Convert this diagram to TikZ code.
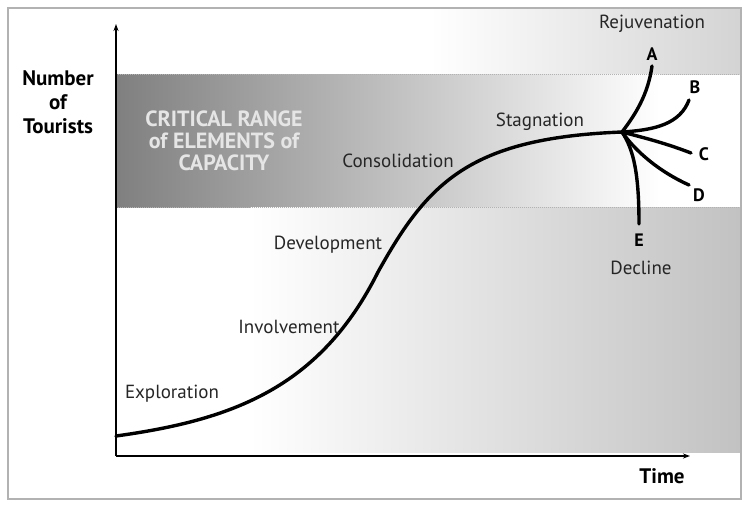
\documentclass[tikz,border=0pt]{standalone}
\usepackage{fontspec}
\setmainfont{PT Sans}
\usetikzlibrary{arrows.meta}

\begin{document}
\begin{tikzpicture}[x=1pt,y=-1pt,
		stage/.style={font=\fontsize{19}{21}\selectfont, text=black!85, inner sep=0pt},
		branchlabel/.style={font=\fontsize{18}{20}\selectfont\bfseries, inner sep=0pt},
		axislabel/.style={font=\fontsize{21}{24}\selectfont\bfseries, align=center, inner sep=0pt},
		life/.style={line width=3.4pt, line cap=round},
		axis/.style={line width=1.3pt, -{Stealth[length=7pt,width=5pt]}}]
		\useasboundingbox (0,0) rectangle (749,507);
		\fill[white] (0,0) rectangle (749,507);
		\shade[left color=white, right color=black!17] (430,9) rectangle (741,74);
		\shade[left color=black!50, right color=white] (116,74) rectangle (660,207);
		\shade[left color=white, right color=black!24] (250,207) rectangle (741,452);
		\draw[gray!60, densely dotted, line width=1pt] (116,74) -- (741,74);
		\draw[gray!60, densely dotted, line width=1pt] (116,207) -- (741,207);
		\draw[gray!60, line width=1.2pt] (8,8) rectangle (741,499);
		\coordinate (origin) at (116,456);
		\coordinate (ytip) at (116,24);
		\coordinate (xtip) at (690,456);
		\draw[axis] (origin) -- (ytip);
		\draw[axis] (origin) -- (xtip);
		\coordinate (start) at (116,436);
		\coordinate (mid) at (378,272);
		\coordinate (fork) at (622,132);
		\coordinate (endA) at (652,66);
		\coordinate (endB) at (689,100);
		\coordinate (endC) at (691,153);
		\coordinate (endD) at (689,185);
		\coordinate (endE) at (639,224);
		\draw[life] (start) .. controls (232,420) and (320,388) .. (mid)
			.. controls (428,182) and (470,138) .. (fork);
		\draw[life] (fork) .. controls (635,115) and (648,95) .. (endA);
		\draw[life] (fork) .. controls (655,130) and (680,124) .. (endB);
		\draw[life] (fork) .. controls (645,138) and (665,143) .. (endC);
		\draw[life] (fork) .. controls (636,152) and (660,172) .. (endD);
		\draw[life] (fork) .. controls (634,150) and (639,175) .. (endE);
		\node[axislabel] (tourists) at (58,102) {Number\\of\\Tourists};
		\node[axislabel] (time) at (662,476) {Time};
		\node[axislabel, font=\fontsize{22}{22}\selectfont\bfseries, text=white!90!black] (critical) at (224,141) {CRITICAL RANGE\\of ELEMENTS of\\CAPACITY};
		\node[stage] (exploration) at (172,394) {Exploration};
		\node[stage] (involvement) at (289,327) {Involvement};
		\node[stage] (development) at (328,245) {Development};
		\node[stage] (consolidation) at (398,161) {Consolidation};
		\node[stage] (stagnation) at (540,122) {Stagnation};
		\node[stage] (rejuvenation) at (652,24) {Rejuvenation};
		\node[stage] (decline) at (641,268) {Decline};
		\node[branchlabel] (labA) at (652,54) {A};
		\node[branchlabel] (labB) at (695,87) {B};
		\node[branchlabel] (labC) at (704,154) {C};
		\node[branchlabel] (labD) at (699,195) {D};
		\node[branchlabel] (labE) at (639,240) {E};
\end{tikzpicture}
\end{document}
